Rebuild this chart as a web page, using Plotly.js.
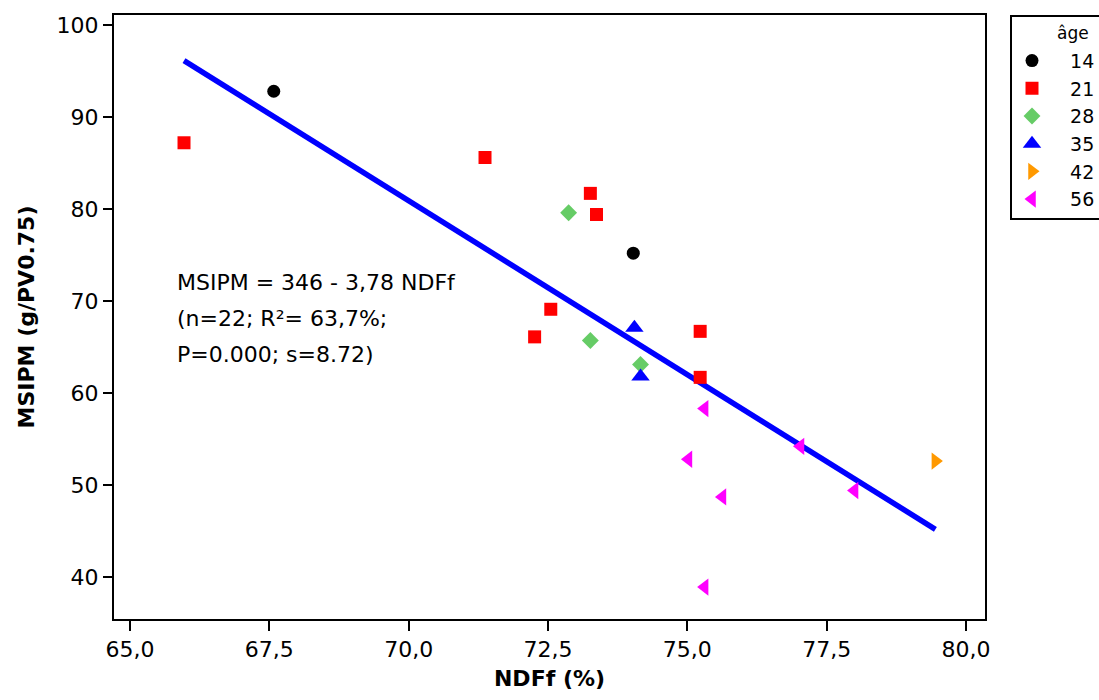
<!DOCTYPE html>
<html>
<head>
<meta charset="utf-8">
<script src="https://cdn.plot.ly/plotly-3.0.1.min.js"></script>
<style>html,body{margin:0;padding:0;background:#fff}#chart{width:1099px;height:700px}</style>
</head>
<body>
<div id="chart"></div>
<script>
// Data
const ageGroups = ["14", "21", "28", "35", "42", "56"];
const ndf14 = [67.58, 74.03];
const msi14 = [92.8, 75.2];
const ndf21 = [65.97, 71.37, 73.26, 73.37, 72.55, 72.26, 75.23, 75.23];
const msi21 = [87.2, 85.6, 81.7, 79.4, 69.1, 66.1, 66.7, 61.7];
const ndf28 = [72.87, 73.26, 74.16];
const msi28 = [79.6, 65.7, 63.1];
const ndf35 = [74.05, 74.16];
const msi35 = [67.1, 61.8];
const ndf42 = [79.45];
const msi42 = [52.6];
const ndf56 = [75.31, 75.02, 77.03, 78.0, 75.63, 75.31];
const msi56 = [58.3, 52.8, 54.2, 49.4, 48.7, 38.9];
const fitIntercept = 345.5;
const fitSlope = -3.78;
const xTickVals = [65, 67.5, 70, 72.5, 75, 77.5, 80];
const yTickVals = [40, 50, 60, 70, 80, 90, 100];
const eqLines = ["MSIPM = 346 - 3,78 NDFf", "(n=22; R²= 63,7%;", "P=0.000; s=8.72)"];

const FONT = "DejaVu Sans, Verdana, sans-serif";
const groups = [
  {x: ndf14, y: msi14, symbol: "circle", color: "#000000", size: 13},
  {x: ndf21, y: msi21, symbol: "square", color: "#FF0000", size: 13},
  {x: ndf28, y: msi28, symbol: "diamond", color: "#66CC66", size: 13},
  {x: ndf35, y: msi35, symbol: "triangle-up", color: "#0000FF", size: 16},
  {x: ndf42, y: msi42, symbol: "triangle-right", color: "#FF9900", size: 15},
  {x: ndf56, y: msi56, symbol: "triangle-left", color: "#FF00FF", size: 15}
];

const allX = [].concat(ndf14, ndf21, ndf28, ndf35, ndf42, ndf56);
const xMin = Math.min(...allX), xMax = Math.max(...allX);
const traces = [{
  x: [xMin, xMax],
  y: [fitIntercept + fitSlope * xMin, fitIntercept + fitSlope * xMax],
  mode: "lines",
  line: {color: "#0000FF", width: 5.5},
  showlegend: false,
  hoverinfo: "skip"
}];
const pad = "\u00a0\u00a0\u00a0";
groups.forEach((g, i) => {
  traces.push({
    x: g.x, y: g.y, mode: "markers", name: pad + ageGroups[i], type: "scatter",
    marker: {symbol: g.symbol, color: g.color, size: g.size, line: {width: 0}}
  });
});

const eqY = [282, 318, 354];
const annotations = eqLines.map((t, i) => ({
  text: t, xref: "paper", yref: "paper",
  x: (175 - 114) / 871, y: (619 - eqY[i]) / 604,
  xanchor: "left", yanchor: "middle", showarrow: false,
  font: {family: FONT, size: 22, color: "#000"}
}));
annotations.push({
  text: "âge", xref: "paper", yref: "paper",
  x: (1091 - 114) / 871, y: (619 - 33) / 604,
  xanchor: "right", yanchor: "middle", showarrow: false,
  font: {family: FONT, size: 17, color: "#000"}
});

const layout = {
  width: 1099, height: 700,
  margin: {l: 114, r: 114, t: 15, b: 81, autoexpand: false},
  paper_bgcolor: "#fff", plot_bgcolor: "#fff",
  separators: ",.",
  font: {family: FONT, color: "#000"},
  xaxis: {
    range: [64.714, 80.34], tickvals: xTickVals, tickformat: ".1f",
    showgrid: false, zeroline: false, showline: true, mirror: true,
    linecolor: "#000", linewidth: 2, ticks: "outside", ticklen: 10, tickwidth: 2, tickcolor: "#000",
    tickfont: {family: FONT, size: 22},
    title: {text: "<b>NDFf (%)</b>", font: {family: FONT, size: 22}, standoff: 9}
  },
  yaxis: {
    range: [35.43, 101.09], tickvals: yTickVals,
    showgrid: false, zeroline: false, showline: true, mirror: true,
    linecolor: "#000", linewidth: 2, ticks: "outside", ticklen: 9, tickwidth: 2, tickcolor: "#000",
    tickfont: {family: FONT, size: 22},
    title: {text: "<b>MSIPM (g/PV0.75)</b>", font: {family: FONT, size: 22}, standoff: 16}
  },
  legend: {
    x: (1010 - 114) / 871, y: 1, xanchor: "left", yanchor: "top",
    bordercolor: "#000", borderwidth: 2, bgcolor: "#fff",
    font: {family: FONT, size: 19}, tracegroupgap: 0,
    itemsizing: "trace",
    title: {text: " ", font: {size: 19}}
  },
  annotations: annotations
};

Plotly.newPlot("chart", traces, layout, {displayModeBar: false, staticPlot: true});
</script>
</body>
</html>
